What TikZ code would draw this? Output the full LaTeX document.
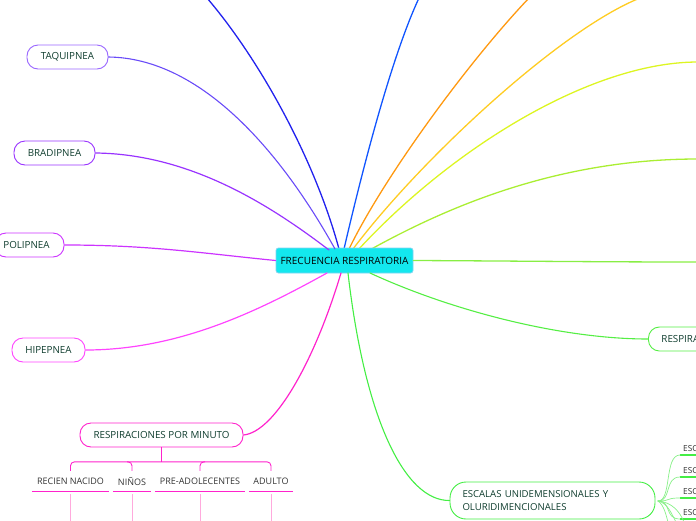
\documentclass[tikz,border=0pt]{standalone}
\usepackage{fontspec}
\setmainfont{Open Sans}
\definecolor{labelc}{HTML}{0F3D2E}
\definecolor{childc}{HTML}{333333}
\definecolor{cyanfill}{HTML}{13E8EE}
\definecolor{cyanline}{HTML}{7FD4F2}
\definecolor{cTaq}{HTML}{9966FF}
\definecolor{cBrad}{HTML}{9933FF}
\definecolor{cPoli}{HTML}{CC33FF}
\definecolor{cHipe}{HTML}{FF44FF}
\definecolor{cRpm}{HTML}{FF22CC}
\definecolor{cRpmLight}{HTML}{FFAADD}
\definecolor{cBlueA}{HTML}{2222EE}
\definecolor{cBlueB}{HTML}{1155FF}
\definecolor{cOrange}{HTML}{FF9911}
\definecolor{cYelOr}{HTML}{FFCC22}
\definecolor{cYellow}{HTML}{DDF522}
\definecolor{cYelGreen}{HTML}{AAEE33}
\definecolor{cGreenA}{HTML}{88EE44}
\definecolor{cGreenB}{HTML}{55EE44}
\definecolor{cGreenC}{HTML}{44EE44}
\definecolor{cGreenD}{HTML}{88F088}
\begin{document}
\begin{tikzpicture}[x=1pt,y=-1pt,
  pill/.style={draw, line width=0.9pt, rounded corners=11pt, fill=white,
    minimum height=24pt, inner sep=0pt, text=labelc, font=\fontsize{9.8}{11}\selectfont},
  childtxt/.style={inner sep=0pt, minimum height=20pt, text=childc,
    font=\fontsize{9}{10}\selectfont},
  conn/.style={line width=1.3pt, line cap=round},
  thinconn/.style={line width=0.9pt, line cap=round}]
\useasboundingbox (0,0) rectangle (696,520);

% named free ends
\coordinate (eBlueA) at (207,-2);
\coordinate (eBlueB) at (419,-2);
\coordinate (eOrange) at (529,-2);
\coordinate (eYelOr) at (640,-2);
\coordinate (eYellow) at (698,62);
\coordinate (eYelGreen) at (698,159);
\coordinate (eGreenA) at (698,262);

% start points on the central node
\coordinate (sBlueA) at (339,249);
\coordinate (sBlueB) at (344,249);
\coordinate (sOrange) at (349,249);
\coordinate (sYelOr) at (353,249);
\coordinate (sYellow) at (358,250);
\coordinate (sYelGreen) at (366,252);
\coordinate (sTaq) at (335,249);
\coordinate (sBrad) at (329,250);
\coordinate (sHipe) at (327,273);
\coordinate (sRpm) at (341,273);
\coordinate (sEsc) at (348,273);
\coordinate (sResp) at (370,273);

% connectors (drawn first, behind nodes)
\draw[conn, cBlueA] (sBlueA) .. controls (315,160) and (260,60) .. (eBlueA);
\draw[conn, cBlueB] (sBlueB) .. controls (360,180) and (390,60) .. (eBlueB);
\draw[conn, cOrange] (sOrange) .. controls (385,175) and (470,60) .. (eOrange);
\draw[conn, cYelOr] (sYelOr) .. controls (420,160) and (560,30) .. (eYelOr);
\draw[conn, cYellow] (sYellow) .. controls (450,150) and (590,62) .. (eYellow);
\draw[conn, cYelGreen] (sYelGreen) .. controls (450,205) and (560,159) .. (eYelGreen);

\node[draw=cyanline, fill=cyanfill, rounded corners=2.5pt, line width=0.8pt,
  minimum width=137pt, minimum height=25pt, inner sep=0pt,
  font=\fontsize{10}{11}\selectfont, text=black] (c) at (344.5,260.5) {FRECUENCIA RESPIRATORIA};

\draw[conn, cGreenA] (c.east) .. controls (520,261) and (600,262) .. (eGreenA);

% left nodes
\node[pill, draw=cTaq, minimum width=81pt] (taq) at (67.5,57) {TAQUIPNEA};
\node[pill, draw=cBrad, minimum width=81pt] (brad) at (54.5,153) {BRADIPNEA};
\node[pill, draw=cPoli, minimum width=69pt] (poli) at (29.5,245) {\hspace*{-6pt}POLIPNEA};
\node[pill, draw=cHipe, minimum width=73pt] (hipe) at (48.5,350) {HIPEPNEA};
\node[pill, draw=cRpm, minimum width=163pt] (rpm) at (161.5,435) {RESPIRACIONES POR MINUTO};

% right nodes
\node[pill, draw=cGreenB, anchor=west, minimum width=110pt, text width=90pt, align=left,
  inner xsep=13pt] (resp) at (648,339) {RESPIRA};
\node[pill, draw=cGreenC, minimum width=205pt, minimum height=37pt, rounded corners=16pt,
  text width=180pt, align=left, font=\fontsize{9.6}{13.5}\selectfont] (esc) at (552.5,500.5)
  {ESCALAS UNIDEMENSIONALES Y\\OLURIDIMENCIONALES};

\draw[conn, cTaq!60!cBlueA, line width=1.1pt] (taq.east) .. controls (200,58) and (280,150) .. (sTaq);
\draw[conn, cBrad, line width=1.2pt] (brad.east) .. controls (190,154) and (270,205) .. (sBrad);
\draw[conn, cPoli, line width=1.2pt] (poli.east) .. controls (150,245) and (200,253) .. (c.west);
\draw[conn, cHipe, line width=1.2pt] (hipe.east) .. controls (180,350) and (260,310) .. (sHipe);
\draw[conn, cRpm, line width=1.2pt] (rpm.east) .. controls (275,432) and (315,360) .. (sRpm);
\draw[conn, cGreenB, line width=1.1pt] (sResp) .. controls (450,310) and (560,339) .. (resp.west);
\draw[conn, cGreenC, line width=1.1pt] (sEsc) .. controls (365,420) and (405,501) .. (esc.west);

% ESCALAS sub-branches
\coordinate (ej) at (658,501);
\foreach \i/\yy in {1/455,2/477,3/498,4/519}{
  \coordinate (u\i) at (680,\yy);
  \coordinate (ue\i) at (698,\yy);
  \node[inner sep=0pt, anchor=south west, text=childc, font=\fontsize{8.3}{9}\selectfont]
    (escl\i) at (683,\yy-3) {ESC};
  \draw[line width=1.4pt, cGreenC] (u\i) -- (ue\i);
  \draw[thinconn, cGreenD, line width=0.7pt] (ej) .. controls (672,501) and (664,\yy) .. (u\i);
}
\coordinate (ed1) at (668,522);
\coordinate (ed2) at (676,522);
\coordinate (ed3) at (684,522);
\draw[thinconn, cGreenD, line width=0.7pt] (ej) .. controls (664,505) and (666,515) .. (ed1);
\draw[thinconn, cGreenD, line width=0.7pt] (ej) .. controls (668,503) and (672,515) .. (ed2);
\draw[thinconn, cGreenD, line width=0.7pt] (ej) .. controls (672,502) and (680,512) .. (ed3);

% children of RESPIRACIONES POR MINUTO
\node[childtxt, minimum width=77pt] (rn) at (70.5,481) {RECIEN NACIDO};
\node[childtxt, minimum width=38pt] (ni) at (132,481) {NIÑOS};
\node[childtxt, minimum width=90pt] (pre) at (200,481) {PRE-ADOLECENTES};
\node[childtxt, minimum width=44pt] (ad) at (271,481) {ADULTO};

\coordinate (bj) at (161.5,462);
\draw[line width=1.3pt, cRpm] (rpm.south) -- (bj);
\draw[line width=0.9pt, cRpm, rounded corners=4pt] (rn.north) -- ++(0,-9) -| (ad.north);
\draw[line width=0.9pt, cRpm, rounded corners=4pt] (ni.north) -- ++(0,-9) -- ++(-5,0);
\draw[line width=0.9pt, cRpm, rounded corners=4pt] (pre.north) -- ++(0,-9) -- ++(5,0);

\foreach \n in {rn,ni,pre,ad}{
  \draw[line width=1.4pt, cRpm] (\n.south west) -- (\n.south east);
  \coordinate (\n end) at (\n.south |- 0,522);
  \draw[line width=1pt, cRpmLight] ([yshift=-3pt]\n.south) -- (\n end);
}
\end{tikzpicture}
\end{document}
